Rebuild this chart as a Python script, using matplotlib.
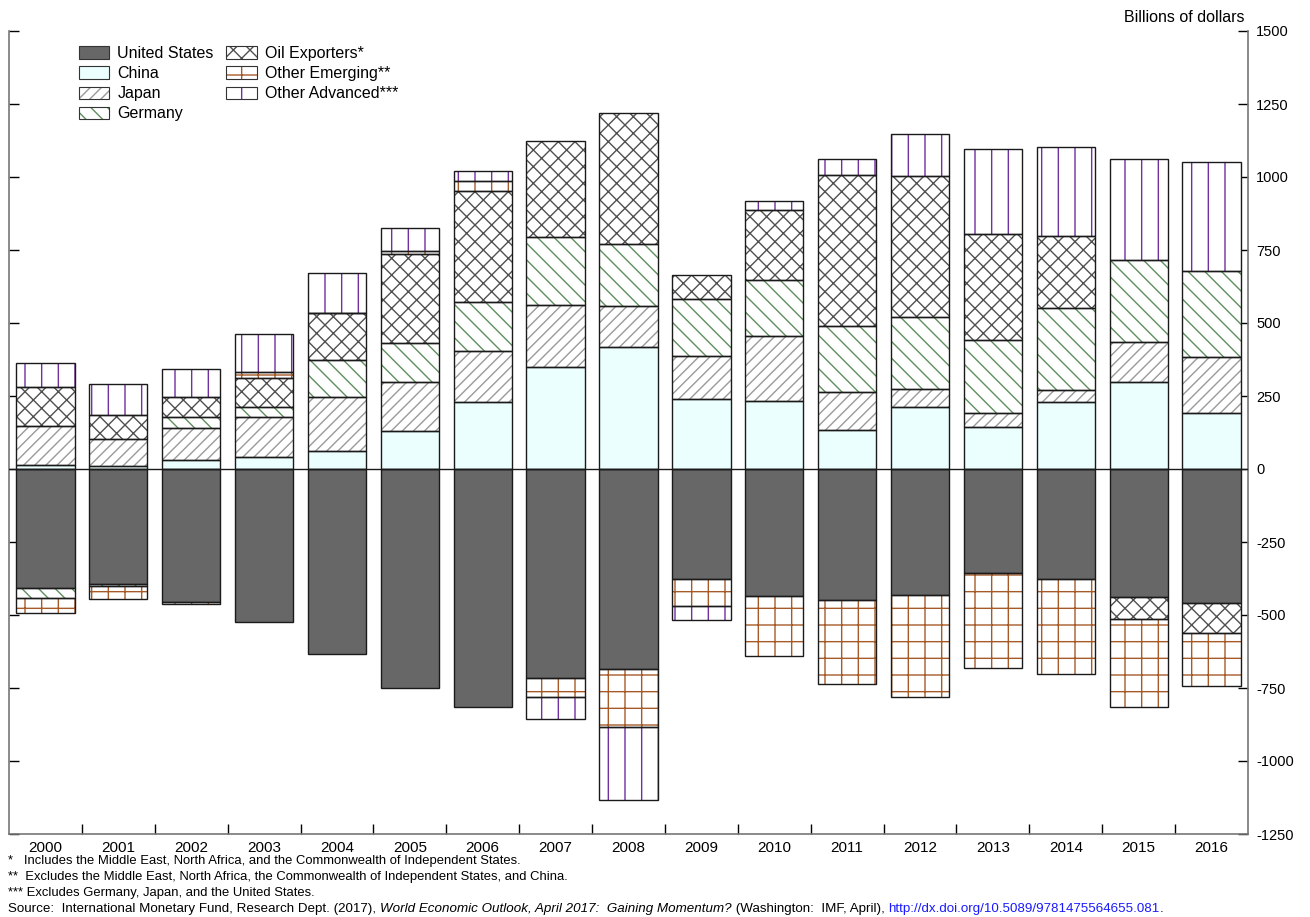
import numpy as np
import matplotlib
matplotlib.use("Agg")
import matplotlib.pyplot as plt
from matplotlib.patches import Patch

plt.rcParams['font.family'] = ['Liberation Sans', 'DejaVu Sans']
plt.rcParams['hatch.linewidth'] = 1.0

# data (billions of dollars)
years = [str(y) for y in range(2000, 2017)]
united_states = [-409, -393, -457, -524, -634, -751, -814, -717, -686, -378, -436, -449, -430, -355, -378, -439, -458]
china = [14, 11, 30, 40, 63, 129, 228, 348, 417, 240, 233, 132, 211, 145, 231, 299, 191]
japan = [133, 91, 109, 138, 182, 170, 176, 214, 141, 146, 221, 131, 62, 46, 38, 136, 191]
germany = [-34, -8, 39, 33, 128, 133, 169, 231, 214, 196, 193, 228, 249, 250, 283, 281, 297]
oil_exporters = [133, 82, 67, 99, 160, 303, 378, 330, 448, 81, 239, 516, 481, 365, 245, -76, -105]
other_emerging = [-49, -44, -4, 23, 0, 12, 34, -65, -199, -92, -206, -287, -350, -325, -325, -301, -180]
other_advanced = [84, 106, 97, 129, 137, 77, 34, -75, -249, -47, 32, 55, 145, 290, 305, 346, 371]

series = [
    ("United States", united_states, '#676767', None, '#676767'),
    ("China", china, '#ebffff', None, '#ebffff'),
    ("Japan", japan, 'white', '///', '#9a9a9a'),
    ("Germany", germany, 'white', '\\\\', '#5f8f5f'),
    ("Oil Exporters*", oil_exporters, 'white', 'xx', '#505050'),
    ("Other Emerging**", other_emerging, 'white', '+', '#a65a28'),
    ("Other Advanced***", other_advanced, 'white', '|', '#7030a0'),
]

fig = plt.figure(figsize=(13.1, 9.17), dpi=100)
ax = fig.add_axes([9 / 1310, 83 / 917, 1239 / 1310, 803 / 917])

x = np.arange(len(years))
pos_base = np.zeros(len(years))
neg_base = np.zeros(len(years))
handles = []
for name, vals, fc, hatch, hc in series:
    vals = np.array(vals, dtype=float)
    bottom = np.where(vals >= 0, pos_base, neg_base)
    ax.bar(x, vals, bottom=bottom, width=0.8, facecolor=fc, edgecolor=hc,
           hatch=hatch, linewidth=0, zorder=2)
    ax.bar(x, vals, bottom=bottom, width=0.8, fill=False, edgecolor='#1a1a1a',
           linewidth=1.0, zorder=3)
    pos_base += np.where(vals >= 0, vals, 0)
    neg_base += np.where(vals < 0, vals, 0)
    h1 = Patch(facecolor=fc, edgecolor=hc, hatch=hatch, linewidth=0)
    h2 = Patch(fill=False, edgecolor='#333333', linewidth=0.8)
    handles.append((h1, h2))

ax.axhline(0, color='#1a1a1a', linewidth=1.0, zorder=4)

ax.set_xlim(-0.5, 16.5)
ax.set_ylim(-1250, 1500)
ax.set_yticks(np.arange(-1250, 1501, 250))
ax.set_yticklabels([str(v) for v in range(-1250, 1501, 250)])
ax.tick_params(axis='y', left=True, right=True, labelleft=False, labelright=True,
               direction='in', length=7, width=1, labelsize=10.5, pad=6)

ax.set_xticks(x)
ax.set_xticklabels(years)
ax.set_xticks(np.arange(0.5, 16, 1), minor=True)
ax.tick_params(axis='x', which='major', length=0, labelsize=11, pad=5)
ax.tick_params(axis='x', which='minor', direction='in', length=7, width=1)

for side in ['left', 'right', 'bottom']:
    ax.spines[side].set_color('#777777')
    ax.spines[side].set_linewidth(1.2)
ax.spines['top'].set_visible(False)

fig.text(1245 / 1310, 1 - 17 / 917, "Billions of dollars", ha='right', va='center', fontsize=11.5)

ax.legend(handles, [s[0] for s in series], ncol=2, frameon=False, fontsize=11.5,
          loc='upper left', bbox_to_anchor=(79 / 1310, 1 - 46 / 917),
          bbox_transform=fig.transFigure, borderpad=0, borderaxespad=0,
          handlelength=1.9, handleheight=0.8, handletextpad=0.5,
          labelspacing=0.32, columnspacing=0.8)

# footnotes
notes = [
    "*   Includes the Middle East, North Africa, and the Commonwealth of Independent States.",
    "**  Excludes the Middle East, North Africa, the Commonwealth of Independent States, and China.",
    "*** Excludes Germany, Japan, and the United States.",
]
for i, line in enumerate(notes):
    fig.text(8 / 1310, 1 - (861 + 16 * i) / 917, line, fontsize=9.4, va='center')

src = fig.text(8 / 1310, 1 - 909 / 917, "Source:  International Monetary Fund, Research Dept. (2017), ",
               fontsize=9.6, va='center')
prev = src
for piece, style, color in [("World Economic Outlook, April 2017:  Gaining Momentum?", 'italic', 'black'),
                            (" (Washington:  IMF, April), ", 'normal', 'black'),
                            ("http://dx.doi.org/10.5089/9781475564655.081", 'normal', '#1a1aff'),
                            (".", 'normal', 'black')]:
    prev = ax.annotate(piece, xy=(1, 0), xycoords=prev, va='bottom', ha='left',
                       fontsize=9.6, style=style, color=color, annotation_clip=False)

fig.savefig("out.png", dpi=100)
